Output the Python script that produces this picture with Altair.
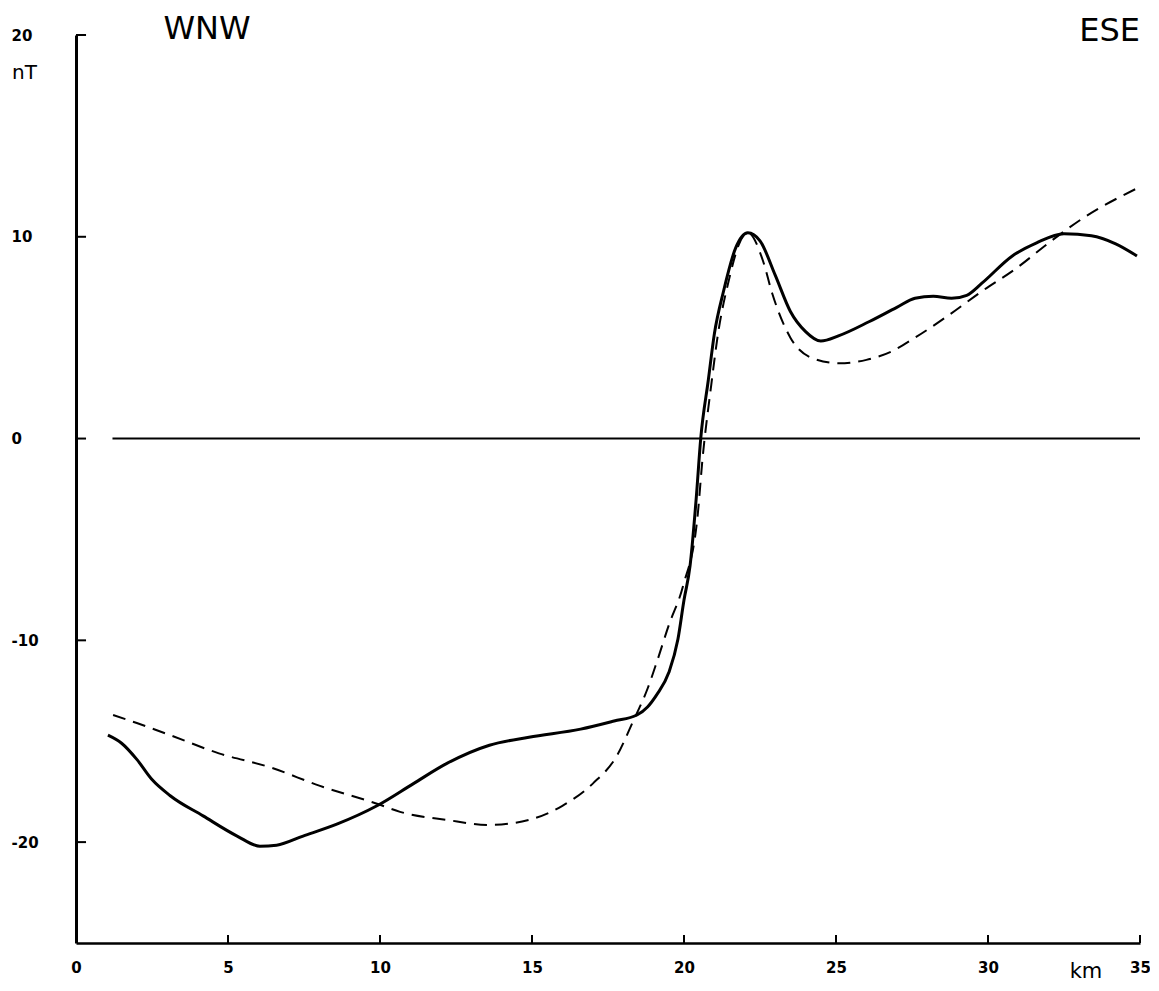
import altair as alt
import pandas as pd

# observed (solid) profile, km / nT
solid_x = [1.05, 1.5, 2.0, 2.5, 3.1, 4.18, 5.3, 6.05, 6.6, 7.47, 8.6, 9.9, 11.1, 12.2,
           13.6, 14.9, 16.6, 17.7, 18.45, 18.8, 19.1, 19.5, 19.8, 20.0, 20.2, 20.4, 20.55,
           20.8, 21.0, 21.3, 21.7, 22.1, 22.5, 23.0, 23.5, 24.0, 24.5, 25.1, 26.1, 27.0,
           27.6, 28.2, 28.8, 29.3, 29.8, 30.8, 31.6, 32.5, 33.4, 34.2, 34.9]
solid_y = [-14.7, -15.1, -15.9, -16.9, -17.7, -18.7, -19.7, -20.2, -20.15, -19.7, -19.1,
           -18.2, -17.1, -16.1, -15.2, -14.8, -14.4, -14.0, -13.7, -13.3, -12.7, -11.6,
           -9.95, -8.0, -6.3, -3.0, 0.0, 2.9, 5.2, 7.3, 9.45, 10.2, 9.8, 8.1, 6.3, 5.3,
           4.83, 5.1, 5.8, 6.5, 6.95, 7.05, 6.95, 7.1, 7.7, 9.05, 9.7, 10.15, 10.05, 9.65, 9.05]

# model (dashed) profile
dashed_x = [1.22, 2.0, 3.1, 4.7, 6.4, 8.0, 9.9, 10.66, 12.2, 13.6, 14.9, 16.0, 17.0, 17.8,
            18.3, 18.8, 19.1, 19.5, 19.97, 20.45, 20.6, 20.9, 21.1, 21.5, 21.8, 22.1, 22.6,
            22.9, 23.5, 24.2, 25.1, 26.0, 26.8, 27.6, 28.6, 29.8, 30.95, 32.0, 33.1, 34.9]
dashed_y = [-13.7, -14.1, -14.7, -15.6, -16.3, -17.2, -18.1, -18.5, -18.9, -19.15, -18.9,
            -18.2, -17.1, -15.7, -14.1, -12.4, -11.1, -9.25, -7.3, -3.8, -1.15, 2.7, 5.0,
            8.0, 9.6, 10.2, 8.8, 7.2, 5.0, 4.0, 3.73, 3.9, 4.3, 5.0, 6.0, 7.3, 8.46, 9.7,
            10.9, 12.4]

x_ticks = [0, 5, 10, 15, 20, 25, 30, 35]
y_ticks = [20, 10, 0, -10, -20]
zero_line = {"x": [1.2], "x2": [35], "y": [0]}

x_dom = [0, 35]
y_dom = [-25, 20]

solid_df = pd.DataFrame({"km": solid_x, "nT": solid_y})
dashed_df = pd.DataFrame({"km": dashed_x, "nT": dashed_y})
xt_df = pd.DataFrame({"km": x_ticks, "y0": [y_dom[0]] * len(x_ticks),
                      "y1": [y_dom[0] + 0.4] * len(x_ticks)})
yt_df = pd.DataFrame({"nT": y_ticks, "x0": [0] * len(y_ticks), "x1": [0.33] * len(y_ticks)})
zero_df = pd.DataFrame(zero_line)

xs = alt.Scale(domain=x_dom, nice=False, zero=False)
ys = alt.Scale(domain=y_dom, nice=False, zero=False)

label_font = "DejaVu Sans"

x_axis = alt.Axis(values=x_ticks, ticks=False, tickSize=0, grid=False, title=None,
                  domainColor="black", domainWidth=2.5, labelFont=label_font,
                  labelFontSize=15, labelFontWeight="bold", labelColor="black",
                  labelPadding=17, labelFlush=False)
y_axis = alt.Axis(values=y_ticks, ticks=False, tickSize=0, grid=False, title=None,
                  domainColor="black", domainWidth=3, labelFont=label_font,
                  labelFontSize=15, labelFontWeight="bold", labelColor="black",
                  labelAlign="left", labelPadding=65, labelFlush=False,
                  labelExpr="'' + datum.value")

solid = alt.Chart(solid_df).mark_line(color="black", strokeWidth=3,
                                      interpolate="monotone").encode(
    x=alt.X("km:Q", scale=xs, axis=x_axis),
    y=alt.Y("nT:Q", scale=ys, axis=y_axis),
)

dashed = alt.Chart(dashed_df).mark_line(color="black", strokeWidth=2,
                                        strokeDash=[13, 8],
                                        interpolate="monotone").encode(
    x=alt.X("km:Q", scale=xs),
    y=alt.Y("nT:Q", scale=ys),
)

zero = alt.Chart(zero_df).mark_rule(color="black", strokeWidth=2).encode(
    x=alt.X("x:Q", scale=xs), x2="x2:Q", y=alt.Y("y:Q", scale=ys)
)

xticks = alt.Chart(xt_df).mark_rule(color="black", strokeWidth=2).encode(
    x=alt.X("km:Q", scale=xs), y=alt.Y("y0:Q", scale=ys), y2="y1:Q"
)
yticks = alt.Chart(yt_df).mark_rule(color="black", strokeWidth=2).encode(
    y=alt.Y("nT:Q", scale=ys), x=alt.X("x0:Q", scale=xs), x2="x1:Q"
)

def label(text, x, y, size, align="left", weight="normal"):
    return alt.Chart(pd.DataFrame({"t": [text]})).mark_text(
        font=label_font, fontSize=size, fontWeight=weight, color="black",
        align=align, baseline="alphabetic"
    ).encode(text="t:N", x=alt.value(x), y=alt.value(y))

texts = [
    label("WNW", 131, 4, 32, align="center"),
    label("ESE", 1064, 6, 32, align="right"),
    label("nT", -64, 44, 20),
    label("km", 1010, 943, 21, align="center"),
]

chart = alt.layer(zero, xticks, yticks, dashed, solid, *texts).properties(
    width=1064, height=908,
    background="white",
    autosize=alt.AutoSizeParams(type="none"),
    padding={"left": 68, "top": 27, "right": 10, "bottom": 40},
).configure_view(stroke=None, strokeWidth=0)

chart.save("out.html", embed_options={"renderer": "svg", "actions": False})
